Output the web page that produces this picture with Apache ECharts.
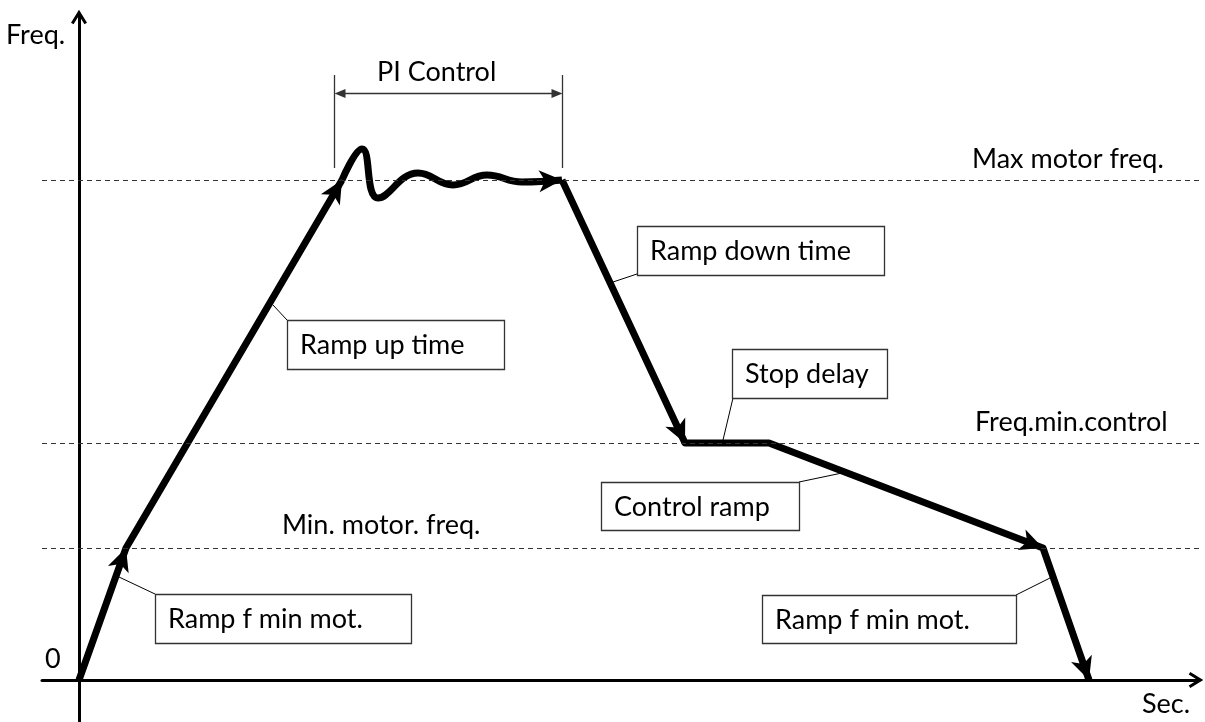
<!DOCTYPE html>
<html>
<head>
<meta charset="utf-8">
<script src="https://cdn.jsdelivr.net/npm/echarts@6.0.0/dist/echarts.min.js"></script>
<style>
html, body { margin: 0; padding: 0; background: #fff; }
#main { width: 1205px; height: 722px; }
</style>
</head>
<body>
<div id="main"></div>
<script>
// frequency levels (Hz) and their names
var levelNames = ['Max motor freq.', 'Freq.min.control', 'Min. motor. freq.'];
var levelValues = [50, 23.7, 13.2];

// ramp up: start, min motor freq, max motor freq
var rampTimes = [0, 4.7, 26.3];
var rampFreqs = [0, 13.2, 50];

// PI control oscillation around max freq
var piTimes = [26.3, 28.3, 29.9, 33.9, 37.4, 40.8, 44.3, 48.3];
var piFreqs = [50, 53.1, 48.2, 50.7, 49.5, 50.5, 49.8, 50];

// ramp down, stop delay, control ramp, ramp to zero
var stopTimes = [48.3, 60.6, 69.0, 96.4, 101.0];
var stopFreqs = [50, 23.7, 23.7, 13.2, 0];

var FONT = '27px Lato';

function toPairs(xs, ys) {
    var out = [];
    for (var i = 0; i < xs.length; i++) {
        out.push([xs[i], ys[i]]);
    }
    return out;
}

// arrow heads: [tipX, tipY, fromX, fromY]
var arrowData = [
    [rampTimes[1], rampFreqs[1], rampTimes[0], rampFreqs[0]],
    [rampTimes[2], rampFreqs[2], rampTimes[1], rampFreqs[1]],
    [piTimes[7], piFreqs[7], piTimes[6], piFreqs[6]],
    [stopTimes[1], stopFreqs[1], stopTimes[0], stopFreqs[0]],
    [stopTimes[3], stopFreqs[3], stopTimes[2], stopFreqs[2]],
    [stopTimes[4], stopFreqs[4], stopTimes[3], stopFreqs[3]]
];

function renderArrow(params, api) {
    var tip = api.coord([api.value(0), api.value(1)]);
    var from = api.coord([api.value(2), api.value(3)]);
    var a = Math.atan2(tip[1] - from[1], tip[0] - from[0]);
    var c = Math.cos(a), s = Math.sin(a);
    var shape = [[0, 0], [-23, -11], [-17, 0], [-23, 11]];
    var pts = shape.map(function (p) {
        return [tip[0] + p[0] * c - p[1] * s, tip[1] + p[0] * s + p[1] * c];
    });
    return {type: 'polygon', shape: {points: pts}, style: {fill: '#000'}};
}

// callout boxes (pixels): text, box x, y, w, h, leader from, leader to
var callouts = [
    ['Ramp f min mot.', 155, 594, 256, 49, [155, 594], [119, 577]],
    ['Ramp up time', 287, 320, 217, 49, [287, 320], [273, 305]],
    ['Ramp down time', 637, 226, 247, 49, [637, 274], [613, 282]],
    ['Stop delay', 732, 349, 155, 49, [733, 398], [723, 440]],
    ['Control ramp', 601, 482, 198, 48, [799, 482], [842, 473]],
    ['Ramp f min mot.', 762, 595, 254, 48, [1016, 595], [1050, 578]]
];

// free texts (pixels)
var texts = [
    ['Freq.', 6, 34],
    ['0', 45, 658],
    ['Sec.', 1142, 703],
    ['PI Control', 377, 71],
    [levelNames[0], 972, 158],
    [levelNames[1], 975, 421],
    [levelNames[2], 282, 524]
];

var graphics = [];
callouts.forEach(function (c) {
    graphics.push({
        type: 'line', z: 10,
        shape: {x1: c[5][0], y1: c[5][1], x2: c[6][0], y2: c[6][1]},
        style: {stroke: '#000', lineWidth: 1}
    });
    graphics.push({
        type: 'rect', z: 11,
        shape: {x: c[1] + 0.5, y: c[2] + 0.5, width: c[3], height: c[4]},
        style: {fill: '#fff', stroke: '#333', lineWidth: 1.3}
    });
    graphics.push({
        type: 'text', z: 12, x: c[1] + 13, y: c[2] + c[4] / 2 + 1,
        style: {text: c[0], font: FONT, fill: '#000', align: 'left', verticalAlign: 'middle'}
    });
});
texts.forEach(function (t) {
    graphics.push({
        type: 'text', z: 12, x: t[1], y: t[2] + 1,
        style: {text: t[0], font: FONT, fill: '#000', align: 'left', verticalAlign: 'middle'}
    });
});

// PI control bracket
var piLeft = 334.5, piRight = 562.5, piY = 93.5;
graphics.push(
    {type: 'line', z: 10, shape: {x1: piLeft, y1: 75, x2: piLeft, y2: 168}, style: {stroke: '#333', lineWidth: 1.3}},
    {type: 'line', z: 10, shape: {x1: piRight, y1: 75, x2: piRight, y2: 168}, style: {stroke: '#333', lineWidth: 1.3}},
    {type: 'line', z: 10, shape: {x1: piLeft + 4, y1: piY, x2: piRight - 4, y2: piY}, style: {stroke: '#333', lineWidth: 1.3}},
    {type: 'polygon', z: 10, shape: {points: [[piLeft, piY], [piLeft + 11, piY - 4.5], [piLeft + 11, piY + 4.5]]}, style: {fill: '#333'}},
    {type: 'polygon', z: 10, shape: {points: [[piRight, piY], [piRight - 11, piY - 4.5], [piRight - 11, piY + 4.5]]}, style: {fill: '#333'}}
);

var chevron = 'path://M8,0 L16,13 L13.44,14.57 L8,5.73 L2.56,14.57 L0,13 Z';

var axisCommon = {
    type: 'value',
    axisLine: {
        show: true,
        onZero: true,
        symbol: ['none', chevron],
        symbolSize: [16, 15],
        symbolOffset: [0, -3],
        lineStyle: {color: '#000', width: 3}
    },
    axisTick: {show: false},
    axisLabel: {show: false},
    splitLine: {show: false}
};

var option = {
    animation: false,
    backgroundColor: '#fff',
    grid: {left: 42, right: 6, top: 14, bottom: 0},
    xAxis: echarts.util.merge({min: -3.7, max: 112.0}, axisCommon, true),
    yAxis: echarts.util.merge({min: -4.2, max: 66.6}, axisCommon, true),
    graphic: graphics,
    series: [
        {
            name: 'ramp up',
            type: 'line',
            data: toPairs(rampTimes, rampFreqs),
            symbol: 'none',
            lineStyle: {color: '#000', width: 7, join: 'round'},
            markLine: {
                silent: true,
                symbol: 'none',
                label: {show: false},
                lineStyle: {type: [5, 4], width: 1, color: '#333'},
                data: levelValues.map(function (v) { return {yAxis: v}; })
            }
        },
        {
            name: 'PI control',
            type: 'line',
            data: toPairs(piTimes, piFreqs),
            symbol: 'none',
            smooth: 0.45,
            lineStyle: {color: '#000', width: 7}
        },
        {
            name: 'ramp down',
            type: 'line',
            data: toPairs(stopTimes, stopFreqs),
            symbol: 'none',
            lineStyle: {color: '#000', width: 7, join: 'round'}
        },
        {
            name: 'arrows',
            type: 'custom',
            renderItem: renderArrow,
            encode: {x: [0, 2], y: [1, 3]},
            data: arrowData,
            z: 5
        }
    ]
};

var myChart = echarts.init(document.getElementById('main'));
myChart.setOption(option);
</script>
</body>
</html>
